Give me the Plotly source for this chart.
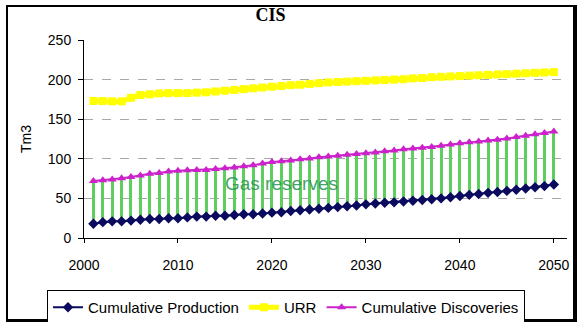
import plotly.graph_objects as go

years = list(range(2001, 2051))

production = [18, 20, 21, 21, 22, 23, 24, 24, 25, 25,
              26, 27, 27, 28, 28, 29, 30, 30, 31, 32,
              32.5, 34, 35, 36, 37, 38, 39, 40, 41, 42.5,
              43.5, 44.5, 45, 46, 47, 48, 49, 50, 51.5, 53,
              54.5, 55.5, 57, 58, 59.5, 61, 62.5, 64, 65.5, 67.5]

urr = [173, 173, 172.5, 172.5, 177, 180.5, 181.5, 182.5, 183, 183,
       183, 183.5, 184, 185, 186, 187, 188, 189, 190, 191,
       192, 193, 193.5, 194.5, 195.5, 196.5, 197, 197.5, 198, 198.5,
       199, 199.5, 200, 200.5, 201.5, 202, 203, 203.5, 204, 204.5,
       205, 205.5, 206, 206.5, 207, 207.5, 208, 208.5, 209, 209.5]

discoveries = [72, 73, 74, 75.5, 77, 79, 81, 82, 84, 85,
               85.5, 86, 86, 87, 88, 89, 90.5, 92, 94, 96,
               97, 98, 99.5, 100.5, 102, 103, 104, 105, 106, 107,
               108, 109.5, 110.5, 112, 113, 114, 115, 116.5, 118, 119.5,
               121, 122, 123, 124, 125.5, 127.5, 129, 131, 132.5, 134.5]

reserves = [d - p for d, p in zip(discoveries, production)]

fig = go.Figure()

fig.add_trace(go.Bar(x=years, y=reserves, base=production, width=0.32,
                     marker=dict(color="#5ecf5e", line=dict(width=0)),
                     showlegend=False, hoverinfo="skip"))

fig.add_trace(go.Scatter(x=years, y=production, name="Cumulative Production",
                         mode="lines+markers",
                         line=dict(color="#0a0a5e", width=2),
                         marker=dict(symbol="diamond", size=8, color="#0a0a5e")))
fig.add_trace(go.Scatter(x=years, y=urr, name="URR", mode="lines+markers",
                         line=dict(color="#ffff00", width=5),
                         marker=dict(symbol="square", size=8, color="#ffff00")))
fig.add_trace(go.Scatter(x=years, y=discoveries, name="Cumulative Discoveries",
                         mode="lines+markers",
                         line=dict(color="#cc22cc", width=2),
                         marker=dict(symbol="triangle-up", size=8, color="#cc22cc")))

FW, FH = 577, 322
L, R, T, B = 84, 567, 40, 238
W, H = R - L, B - T
def px(x): return (x - L) / W
def py(y): return (B - y) / H

shapes = []
for x0, y0, x1, y1 in [(6, 5, 8, 322), (6, 5, 577, 7), (573, 5, 577, 322), (6, 319, 577, 322)]:
    shapes.append(dict(type="rect", xref="paper", yref="paper",
                       x0=px(x0), x1=px(x1), y0=py(y1), y1=py(y0),
                       fillcolor="black", line=dict(width=0), layer="above"))

fig.update_layout(
    width=FW, height=FH,
    margin=dict(l=L, r=FW - R, t=T, b=FH - B, autoexpand=False),
    paper_bgcolor="white", plot_bgcolor="white",
    font=dict(family="Liberation Sans, Arial, sans-serif", size=13, color="black"),
    title=dict(text="<b>CIS</b>", xref="container", yref="container",
               x=270.5 / FW, xanchor="center", y=1 - 15 / FH, yanchor="middle",
               font=dict(family="Liberation Serif, Times New Roman, serif", size=18, color="black")),
    bargap=0,
    showlegend=True,
    legend=dict(orientation="h", xref="container", yref="container",
                x=47 / FW, y=1 - 290 / FH, xanchor="left", yanchor="top",
                bordercolor="black", borderwidth=1, bgcolor="white",
                font=dict(size=15), itemwidth=30, tracegroupgap=0),
    shapes=shapes,
    annotations=[dict(x=2021, y=69, xref="x", yref="y", text="Gas reserves", showarrow=False,
                      font=dict(family="Liberation Sans, Arial, sans-serif", size=19,
                                color="rgba(45,150,90,0.9)"))],
)

fig.update_xaxes(range=[2000, 2051.4], tickvals=[2000, 2010, 2020, 2030, 2040, 2050],
                 showgrid=False, showline=True, linecolor="black", linewidth=1,
                 ticks="outside", ticklen=4, tickcolor="black", automargin=False,
                 ticklabelstandoff=10, tickfont=dict(size=14), zeroline=False)
fig.update_yaxes(range=[0, 250], tickvals=[0, 50, 100, 150, 200, 250],
                 showgrid=True, gridcolor="#a8a8a8", griddash="dash", gridwidth=1,
                 showline=True, linecolor="black", linewidth=1, automargin=False,
                 ticks="outside", ticklen=5, tickcolor="black",
                 ticklabelstandoff=4, tickfont=dict(size=14), zeroline=False,
                 title=dict(text="Tm3", standoff=12, font=dict(size=14)))

fig.write_html("out.html")
